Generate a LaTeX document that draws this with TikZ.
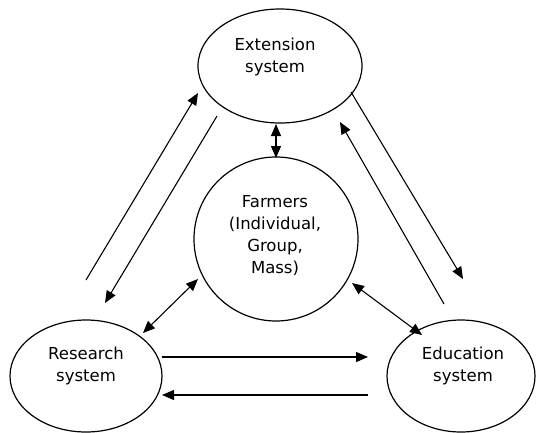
\documentclass[tikz,border=0pt]{standalone}
\usepackage{fontspec}
\setmainfont{DejaVu Sans}
\usetikzlibrary{arrows.meta,shapes.geometric}
\begin{document}
\begin{tikzpicture}[x=1pt,y=-1pt,
  blob/.style={draw,line width=1.2pt,ellipse,inner sep=0pt},
  lbl/.style={anchor=north,align=center,inner sep=0pt,font=\fontsize{16.5}{22}\selectfont},
  conn/.style={line width=1.1pt,-{Triangle[length=12pt,width=10pt]}},
  dconn/.style={line width=1.1pt,{Triangle[length=12pt,width=10pt]}-{Triangle[length=12pt,width=10pt]}}]
\useasboundingbox (0,0) rectangle (536,432);
% shapes
\node[blob,minimum width=164pt,minimum height=114pt] (ext) at (280,66) {};
\node[blob,minimum width=152pt,minimum height=112pt] (res) at (86,376) {};
\node[blob,minimum width=148pt,minimum height=112pt] (edu) at (461,376) {};
\node[blob,circle,minimum size=164pt] (farm) at (276,239) {};
% texts
\node[lbl] (extT) at (275,38) {Extension\\system};
\node[lbl] (resT) at (86,347) {Research\\system};
\node[lbl] (eduT) at (463,347) {Education\\system};
\node[lbl] (farmT) at (275,195) {Farmers\\(Individual,\\Group,\\Mass)};
% connector end points
\coordinate (a1s) at (86,280);  \coordinate (a1e) at (198,93);
\coordinate (a2s) at (217,116); \coordinate (a2e) at (105,303);
\coordinate (a3s) at (143,333); \coordinate (a3e) at (198,279);
\coordinate (a4s) at (276,124); \coordinate (a4e) at (276,158);
\coordinate (a5s) at (351,92);  \coordinate (a5e) at (463,279);
\coordinate (a6s) at (444,304); \coordinate (a6e) at (340,122);
\coordinate (a7s) at (352,283); \coordinate (a7e) at (422,335);
\coordinate (a8s) at (162,357); \coordinate (a8e) at (368,357);
\coordinate (a9s) at (368,395); \coordinate (a9e) at (162,395);
% connectors
\draw[conn] (a1s) -- (a1e);
\draw[conn] (a2s) -- (a2e);
\draw[dconn] (a3s) -- (a3e);
\draw[dconn] (a4s) -- (a4e);
\draw[conn] (a5s) -- (a5e);
\draw[conn] (a6s) -- (a6e);
\draw[dconn] (a7s) -- (a7e);
\draw[conn] (a8s) -- (a8e);
\draw[conn] (a9s) -- (a9e);
\end{tikzpicture}
\end{document}
